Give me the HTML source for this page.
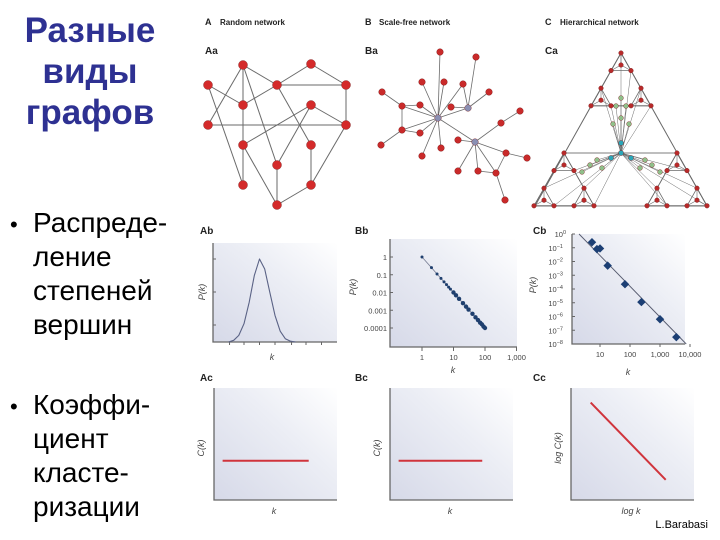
<!DOCTYPE html>
<html><head><meta charset="utf-8"><style>
body{margin:0;background:#fff;}
svg{display:block;font-family:"Liberation Sans","DejaVu Sans",sans-serif;}
</style></head><body>
<svg id="s" width="720" height="540" viewBox="0 0 720 540" xmlns="http://www.w3.org/2000/svg">
<defs>
<linearGradient id="bg" x1="0" y1="1" x2="1" y2="0">
<stop offset="0" stop-color="#d6d9e8"/><stop offset="0.6" stop-color="#eceef5"/><stop offset="1" stop-color="#ffffff"/>
</linearGradient>
</defs>
<g font-weight="bold" font-size="35" fill="#2e3192" text-anchor="middle">
<text x="90" y="42">Разные</text><text x="90" y="83">виды</text><text x="90" y="124">графов</text>
</g>
<g font-size="28" fill="#000">
<text x="10" y="232" font-size="22">•</text>
<text x="33" y="232">Распреде-</text><text x="33" y="266">ление</text><text x="33" y="300">степеней</text><text x="33" y="334">вершин</text>
</g>
<g font-size="28" fill="#000">
<text x="10" y="414" font-size="22">•</text>
<text x="33" y="414">Коэффи-</text><text x="33" y="448">циент</text><text x="33" y="482">класте-</text><text x="33" y="516">ризации</text>
</g>
<g font-weight="bold" font-size="9" fill="#222">
<text x="205" y="25">A</text><text x="220" y="25" font-size="8">Random network</text>
<text x="365" y="25">B</text><text x="379" y="25" font-size="8">Scale-free network</text>
<text x="545" y="25">C</text><text x="560" y="25" font-size="8">Hierarchical network</text>
</g>
<g font-weight="bold" font-size="10" fill="#222">
<text x="205" y="54">Aa</text><text x="365" y="54">Ba</text><text x="545" y="54">Ca</text>
<text x="200" y="234">Ab</text><text x="355" y="234">Bb</text><text x="533" y="234">Cb</text>
<text x="200" y="381">Ac</text><text x="355" y="381">Bc</text><text x="533" y="381">Cc</text>
</g>
<g id="net"></g>
<g id="charts"></g>
<text x="708" y="528" text-anchor="end" font-size="11" fill="#000">L.Barabasi</text>
</svg>
<script>
// ---- chart data ----
const abK = [1.5,2,2.5,3,3.5,4,4.5,5,5.5,6,6.5,7,7.5,8];
const abP = [0,0.02,0.08,0.22,0.48,0.8,1.0,0.88,0.6,0.32,0.13,0.04,0.01,0];
const bbK = [1,2,3,4,5,6,7,8,10,12,15,20,25,30,40,50,60,70,80,90,100];
const bbP = [1,0.25,0.11,0.0625,0.04,0.028,0.02,0.0156,0.01,0.0069,0.0044,0.0025,0.0016,0.0011,0.00063,0.0004,0.00028,0.0002,0.00016,0.00012,0.0001];
const bbYTicks = [1,0.1,0.01,0.001,0.0001];
const bbYLabels = ["1","0.1","0.01","0.001","0.0001"];
const bbXTicks = [1,10,100,1000];
const bbXLabels = ["1","10","100","1,000"];
const cbK = [5.4,7.9,10,18,68,240,1000,3500];
const cbLogP = [-0.6,-1.1,-1.05,-2.3,-3.65,-4.95,-6.2,-7.5];
const cbFitK = [2,7500];
const cbFitLogP = [0,-8];
const cbYExp = [0,-1,-2,-3,-4,-5,-6,-7,-8];
const cbXTicks = [10,100,1000,10000];
const cbXLabels = ["10","100","1,000","10,000"];
const acC = [0.35,0.35]; const acK = [0.07,0.77];
const bcC = [0.35,0.35]; const bcK = [0.07,0.75];
const ccLogK = [0.16,0.77]; const ccLogC = [0.87,0.18];

const NS="http://www.w3.org/2000/svg";
function mk(tag,attrs,parent){const e=document.createElementNS(NS,tag);for(const k in attrs)e.setAttribute(k,attrs[k]);parent.appendChild(e);return e;}
const C=document.getElementById('charts');
function frame(x0,y0,x1,y1,name){
  const g=mk('g',{},C);
  
  
  const r=mk('rect',{x:x0,y:y0,width:x1-x0,height:y1-y0,fill:'url(#bg)'},g);
  
  
  const ax=mk('path',{d:`M${x0},${y0} V${y1} H${x1}`,stroke:'#666',fill:'none','stroke-width':1.3},g);
  
  
  return g;
}
function txt(g,x,y,s,opt){const t=mk('text',Object.assign({x:x,y:y,'font-size':8,fill:'#444'},opt||{}),g);t.textContent=s;return t;}
function ylabel(g,x,y,s){const t=txt(g,x,y,s,{transform:`rotate(-90 ${x} ${y})`,'text-anchor':'middle','font-size':9,'font-style':'italic'});}
function xlabel(g,x,y,s){const t=txt(g,x,y,s,{'text-anchor':'middle','font-size':9,'font-style':'italic'});}

// Ab
{const x0=213,x1=337,y0=243,y1=342;const g=frame(x0,y0,x1,y1,'chart-ab-poisson');
 const xs=k=>x0+k/12*(x1-x0), ys=p=>y1-p*83;
 [259,292,325].forEach(y=>mk('line',{x1:x0,y1:y,x2:x0+3,y2:y,stroke:'#666'},g));
 [1.6,3,4.5,6,7.6,9,10.5].forEach(k=>mk('line',{x1:xs(k),y1:y1,x2:xs(k),y2:y1+3,stroke:'#666'},g));
 let d='';abK.forEach((k,i)=>{d+=(i?'L':'M')+xs(k).toFixed(1)+','+ys(abP[i]).toFixed(1);});
 const p=mk('path',{d:d,fill:'none',stroke:'#5a6285','stroke-width':1.1,'stroke-linejoin':'round'},g);
 
 ylabel(g,205,292,'P(k)');xlabel(g,272,360,'k');}
// Bb
{const x0=390,x1=517,y0=239,y1=347;const g=frame(x0,y0,x1,y1,'chart-bb-powerlaw');
 const xs=k=>422+Math.log10(k)*31.5, ys=p=>257-Math.log10(p)*17.75;
 bbYTicks.forEach((v,i)=>{mk('line',{x1:x0,y1:ys(v),x2:x0+3,y2:ys(v),stroke:'#666'},g);const t=txt(g,x0-3,ys(v)+3,bbYLabels[i],{'text-anchor':'end','font-size':7.5});});
 bbXTicks.forEach((v,i)=>{mk('line',{x1:xs(v),y1:y1,x2:xs(v),y2:y1+4,stroke:'#666'},g);const t=txt(g,xs(v),y1+13,bbXLabels[i],{'text-anchor':'middle','font-size':7.5});});
 let d='';bbK.forEach((k,i)=>{d+=(i?'L':'M')+xs(k).toFixed(1)+','+ys(bbP[i]).toFixed(1);});
 mk('path',{d:d,fill:'none',stroke:'#7a8096','stroke-width':0.8},g);
 bbK.forEach((k,i)=>{const c=mk('circle',{cx:xs(k),cy:ys(bbP[i]),r:k>9?2.2:1.5,fill:'#1f3f6e'},g);});
 ylabel(g,356,287,'P(k)');xlabel(g,453,373,'k');}
// Cb
{const x0=572,x1=685,y0=234,y1=344;const g=frame(x0,y0,x1,y1,'chart-cb-hierarchical-powerlaw');
 const xs=k=>600+(Math.log10(k)-1)*30, ys=lp=>y0-lp*13.75;
 cbYExp.forEach(e=>{const y=ys(e);mk('line',{x1:x0,y1:y,x2:x0+3,y2:y,stroke:'#666'},g);
   const t=txt(g,x0-(e===0?6:9),y+3,'10',{'text-anchor':'end','font-size':7.5});
   const ts=mk('tspan',{dy:-3,'font-size':5.5},t);ts.textContent=e===0?'0':'−'+(-e);});
 cbXTicks.forEach((v,i)=>{mk('line',{x1:xs(v),y1:y1,x2:xs(v),y2:y1+3,stroke:'#666'},g);const t=txt(g,xs(v),y1+13,cbXLabels[i],{'text-anchor':'middle','font-size':7.5});});
 const fl=mk('line',{x1:xs(cbFitK[0]),y1:ys(cbFitLogP[0]),x2:xs(cbFitK[1]),y2:ys(cbFitLogP[1]),stroke:'#555a6e','stroke-width':0.9},g);
 
 cbK.forEach((k,i)=>{const x=xs(k),y=ys(cbLogP[i]);const r=mk('rect',{x:x-3,y:y-3,width:6,height:6,fill:'#1c3f74',transform:`rotate(45 ${x} ${y})`},g);});
 ylabel(g,536,285,'P(k)');xlabel(g,628,375,'k');}
// bottom row
function flat(x0,name,kArr,cArr,lab){const y0=388,y1=500,x1=x0+123;const g=frame(x0,y0,x1,y1,name);
 const xs=v=>x0+v*(x1-x0), ys=v=>y1-v*(y1-y0);
 const l=mk('line',{x1:xs(kArr[0]),y1:ys(cArr[0]),x2:xs(kArr[1]),y2:ys(cArr[1]),stroke:'#d0343c','stroke-width':2},g);
 
 ylabel(g,x0-10,y0+60,lab[0]);xlabel(g,x0+60,y1+14,lab[1]);}
flat(214,'chart-ac-clustering',acK,acC,['C(k)','k']);
flat(390,'chart-bc-clustering',bcK,bcC,['C(k)','k']);
flat(571,'chart-cc-clustering',ccLogK,ccLogC,['log C(k)','log k']);

// ---- networks ----
const N=document.getElementById('net');
function edge(a,b,w){const l=mk('line',{x1:a[0],y1:a[1],x2:b[0],y2:b[1],stroke:'#6a6a6a','stroke-width':w||0.8},N);}
function node(p,r,f){const c=mk('circle',{cx:p[0],cy:p[1],r:r,fill:f,stroke:'#7a1a1a','stroke-width':0.4},N);}
// Aa
const an=[[243,65],[311,64],[208,85],[277,85],[346,85],[243,105],[311,105],[208,125],[346,125],[243,145],[311,145],[277,165],[243,185],[311,185],[277,205]];
const ae=[[0,3],[0,5],[0,7],[0,11],[1,3],[1,4],[3,4],[3,5],[2,5],[2,12],[3,10],[4,8],[6,8],[6,9],[6,11],[7,8],[5,9],[9,12],[9,14],[10,13],[13,14],[11,14],[8,13]];
ae.forEach(e=>edge(an[e[0]],an[e[1]],1));an.forEach(p=>node(p,4.5,'#d42a2a'));
// Ba
const h=[[438,118],[468,108],[475,142]];
const br=[[440,52],[476,57],[422,82],[444,82],[463,84],[489,92],[382,92],[402,106],[420,105],[451,107],[520,111],[501,123],[402,130],[420,133],[458,140],[381,145],[441,148],[422,156],[506,153],[527,158],[458,171],[478,171],[496,173],[505,200]];
const bh=[[0,0],[0,2],[0,3],[0,7],[0,8],[0,12],[0,13],[0,16],[0,17],[0,4],[1,1],[1,4],[1,5],[1,9],[2,11],[2,14],[2,18],[2,20],[2,21],[2,22]];
bh.forEach(e=>edge(h[e[0]],br[e[1]]));edge(h[0],h[1]);edge(h[0],h[2]);
[[11,10],[18,19],[18,22],[22,23],[21,22],[7,6],[7,8],[7,12],[12,15],[12,13]].forEach(e=>edge(br[e[0]],br[e[1]]));
br.forEach(p=>node(p,3.3,'#c92a2a'));h.forEach(p=>node(p,3.3,'#8a90b4'));
// Ca hierarchical
const center=[621,153];
function tri(a,s){return [a,[a[0]-s/2,a[1]+s*0.88],[a[0]+s/2,a[1]+s*0.88]];}
const reds=[];
function small(a,s){const t=tri(a,s);const c=[a[0],a[1]+s*0.6];edge(t[0],t[1]);edge(t[1],t[2]);edge(t[0],t[2]);t.forEach(p=>edge(p,c,0.6));t.concat([c]).forEach(p=>reds.push(p));return t;}
function mid(a,s){const ss=s/3;const apices=[a,[a[0]-s/3,a[1]+0.88*2*s/3],[a[0]+s/3,a[1]+0.88*2*s/3]];
  const out=apices.map(p=>small(p,ss));
  edge(out[0][1],out[1][0]);edge(out[0][2],out[2][0]);edge(out[1][2],out[2][1]);
  edge(out[1][1],out[0][0]);edge(out[2][2],out[0][0]);edge(out[1][1],out[2][2]);}
mid([621,53],60);mid([564,153],60);mid([677,153],60);
edge([621,53],[535,206]);edge([621,53],[707,206]);edge([535,206],[707,206]);
edge([591,106],[535,206]);edge([651,106],[707,206]);edge([564,153],[677,153]);
reds.forEach((p,i)=>{if(i%2===0)edge(p,center,0.5);});
const greens=[[621,98],[616,106],[626,106],[621,118],[613,124],[629,124],[597,160],[590,165],[602,168],[582,172],[645,160],[652,165],[640,168],[660,172]];
greens.forEach(p=>edge(p,center,0.5));
reds.forEach(p=>node(p,2.3,'#b82a2a'));greens.forEach(p=>node(p,2.4,'#8fbf8a'));
[[621,143],[621,153],[611,158],[631,158]].forEach(p=>node(p,2.6,'#2aa6b8'));
</script>
</body></html>
